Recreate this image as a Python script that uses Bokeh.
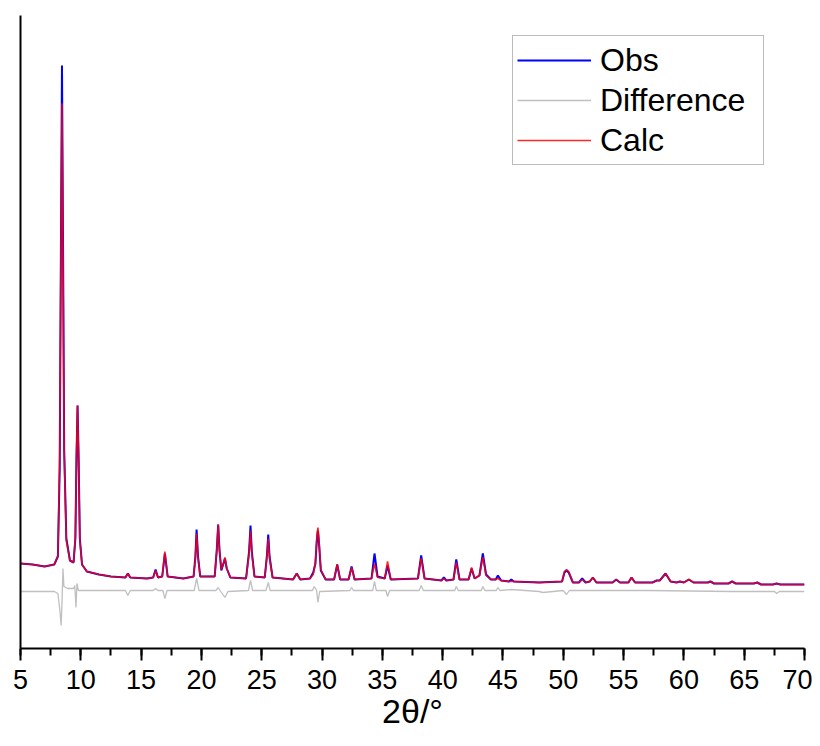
from bokeh.plotting import figure
from bokeh.models import Range1d, SingleIntervalTicker, FixedTicker, Legend, LegendItem
from bokeh.embed import file_html
from bokeh.resources import INLINE

# ---- data (2theta in degrees, intensity in arbitrary units) ----
obs_x = [5.0, 6.0, 7.0, 7.8, 8.1, 8.25, 8.36, 8.44, 8.52, 8.62, 8.8, 9.1, 9.4, 9.55, 9.64, 9.73, 9.82, 9.92,
         10.1, 10.5, 11.5, 12.5, 13.7, 13.9, 14.1, 15.5, 16.0, 16.2, 16.4, 16.75, 16.97, 17.2, 18.5,
         19.35, 19.5, 19.6, 19.72, 19.9, 21.1, 21.27, 21.39, 21.5, 21.65, 21.8, 21.95, 22.1, 22.4,
         23.7, 23.95, 24.07, 24.18, 24.4, 25.25, 25.43, 25.54, 25.65, 25.9, 27.6, 27.9, 28.2,
         29.0, 29.27, 29.45, 29.58, 29.66, 29.75, 29.9, 30.3, 31.0, 31.26, 31.5, 32.2, 32.45, 32.7,
         34.1, 34.35, 34.6, 35.2, 35.43, 35.7, 37.95, 38.22, 38.5, 39.9, 40.1, 40.3, 40.9, 41.13, 41.4,
         42.15, 42.4, 42.65, 43.05, 43.33, 43.6, 44.0, 44.4, 44.58, 44.85, 45.5, 45.69, 45.9, 48.0,
         49.9, 50.1, 50.27, 50.45, 50.8, 51.3, 51.57, 51.85, 52.2, 52.45, 52.75, 54.1, 54.39, 54.7,
         55.4, 55.66, 55.95, 57.4, 57.74, 58.0, 58.48, 58.9, 59.4, 59.67, 60.0, 60.41, 60.8, 62.0,
         62.2, 62.5, 63.7, 64.0, 64.3, 65.8, 66.08, 66.4, 67.4, 67.68, 68.0, 70.0]
obs_y = [85, 84, 82, 84, 92, 180, 420, 583, 420, 200, 110, 88, 86, 110, 190, 243, 190, 110,
         84, 77, 74, 72, 71, 75, 71, 70, 71, 79, 71, 72, 95, 72, 70,
         72, 92, 119, 92, 72, 72, 98, 124, 98, 78, 84, 90, 80, 71,
         70, 97, 123, 97, 72, 71, 93, 114, 92, 71, 69, 75, 69,
         70, 76, 85, 110, 118, 105, 78, 69, 69, 84, 69, 69, 82, 69,
         70, 95, 72, 70, 83, 69, 70, 93, 70, 68, 71, 68, 69, 89, 69,
         69, 80, 70, 73, 95, 74, 69, 69, 73, 68, 67, 69, 67, 66,
         67, 76, 78, 76, 66, 66, 70, 66, 67, 71, 66, 66, 69, 66,
         66, 71, 66, 66, 68, 68, 75, 67, 66, 67, 66, 69, 66, 66,
         67, 65, 65, 67, 65, 65, 66, 64, 64, 65, 64, 64]

calc_x = obs_x
calc_y = [85, 84, 82, 84, 93, 190, 410, 545, 400, 195, 108, 88, 86, 112, 192, 243, 188, 108,
          84, 77, 74, 72, 71, 75, 71, 70, 71, 78, 71, 72, 97, 72, 70,
          72, 90, 115, 90, 72, 72, 98, 124, 98, 79, 84, 91, 80, 71,
          70, 94, 118, 94, 72, 71, 91, 110, 90, 71, 69, 75, 69,
          70, 74, 86, 114, 121, 108, 79, 69, 69, 84, 69, 69, 81, 69,
          70, 85, 71, 70, 87, 69, 70, 90, 70, 68, 70, 68, 69, 86, 69,
          69, 81, 70, 73, 91, 73, 69, 69, 70, 68, 67, 67, 67, 66,
          67, 77, 79, 77, 66, 66, 69, 66, 67, 71, 66, 66, 69, 66,
          66, 71, 66, 66, 68, 68, 75, 67, 66, 67, 66, 69, 66, 66,
          67, 65, 65, 67, 65, 65, 66, 64, 64, 65, 64, 64]

diff_x = [5.0, 7.8, 8.1, 8.25, 8.37, 8.45, 8.52, 8.6, 8.9, 9.4, 9.5, 9.6, 9.68, 9.8, 10.5, 13.7, 13.9, 14.1,
          16.0, 16.2, 16.4, 16.8, 16.97, 17.15, 19.4, 19.6, 19.8, 21.2, 21.39, 21.6, 21.95, 22.2,
          23.9, 24.07, 24.25, 25.35, 25.54, 25.7, 29.2, 29.35, 29.55, 29.66, 29.8, 32.3, 32.45, 32.6,
          34.2, 34.35, 34.5, 35.3, 35.43, 35.6, 38.05, 38.22, 38.4, 41.0, 41.13, 41.3, 43.2, 43.33, 43.5,
          44.45, 44.58, 44.75, 45.7, 48.0, 48.3, 50.0, 50.27, 50.5, 57.0, 64.0, 67.5, 67.7, 67.9, 70.0]
diff_y = [57, 57, 55, 40, 23, 50, 80, 62, 60, 60, 63, 41, 65, 58, 58, 58, 53, 58,
          58, 60, 58, 58, 50, 58, 58, 70, 58, 58, 61, 57, 51, 57,
          58, 68, 58, 58, 66, 58, 58, 62, 58, 46, 57, 58, 61, 58,
          58, 67, 58, 58, 52, 58, 58, 63, 58, 58, 62, 58, 58, 62, 58,
          58, 61, 58, 59, 57, 56, 58, 54, 58, 58, 57, 57, 55, 57, 57]

x_ticks_interval = 5
x_label = "2θ/°"
series_names = ["Obs", "Difference", "Calc"]

FONT = "Liberation Sans"

p = figure(width=812, height=738, output_backend="svg", toolbar_location=None,
           x_range=Range1d(5, 70), y_range=Range1d(0, 633),
           min_border_left=20, min_border_right=8, min_border_top=15, min_border_bottom=90)
p.outline_line_color = None
p.xgrid.visible = False
p.ygrid.visible = False
p.background_fill_color = "white"
p.border_fill_color = "white"

r_obs = p.line(obs_x, obs_y, line_color="#0000FF", line_width=2.0)
r_diff = p.line(diff_x, diff_y, line_color="#C0C0C0", line_width=1.3)
r_calc = p.line(calc_x, calc_y, line_color="#FF0000", line_width=1.6, line_alpha=0.85)

xa = p.xaxis[0]
xa.ticker = SingleIntervalTicker(interval=x_ticks_interval, num_minor_ticks=2)
xa.axis_line_width = 2
xa.axis_line_color = "black"
xa.major_tick_line_width = 2
xa.minor_tick_line_width = 2
xa.major_tick_in = 0
xa.major_tick_out = 12
xa.minor_tick_in = 0
xa.minor_tick_out = 7
xa.major_label_text_font = FONT
xa.major_label_text_font_size = "27px"
xa.major_label_text_color = "black"
xa.major_label_standoff = 9
xa.axis_label = x_label
xa.axis_label_text_font = FONT
xa.axis_label_text_font_size = "34px"
xa.axis_label_text_font_style = "normal"
xa.axis_label_text_color = "black"
xa.axis_label_standoff = 0

ya = p.yaxis[0]
ya.ticker = FixedTicker(ticks=[])
ya.axis_line_width = 2
ya.axis_line_color = "black"
ya.major_tick_line_color = None
ya.minor_tick_line_color = None
ya.major_label_text_font_size = "0px"

legend = Legend(items=[LegendItem(label=series_names[0], renderers=[r_obs]),
                       LegendItem(label=series_names[1], renderers=[r_diff]),
                       LegendItem(label=series_names[2], renderers=[r_calc])],
                location=(492, 483))
legend.label_text_font = FONT
legend.label_text_font_size = "32px"
legend.label_text_color = "black"
legend.glyph_width = 74
legend.glyph_height = 40
legend.label_height = 40
legend.label_width = 159
legend.label_standoff = 9
legend.spacing = 0
legend.padding = 4
legend.margin = 0
legend.border_line_color = "#777777"
legend.border_line_width = 1
legend.background_fill_color = "white"
legend.background_fill_alpha = 1.0
p.add_layout(legend)

open("out.html", "w").write(file_html(p, INLINE))
